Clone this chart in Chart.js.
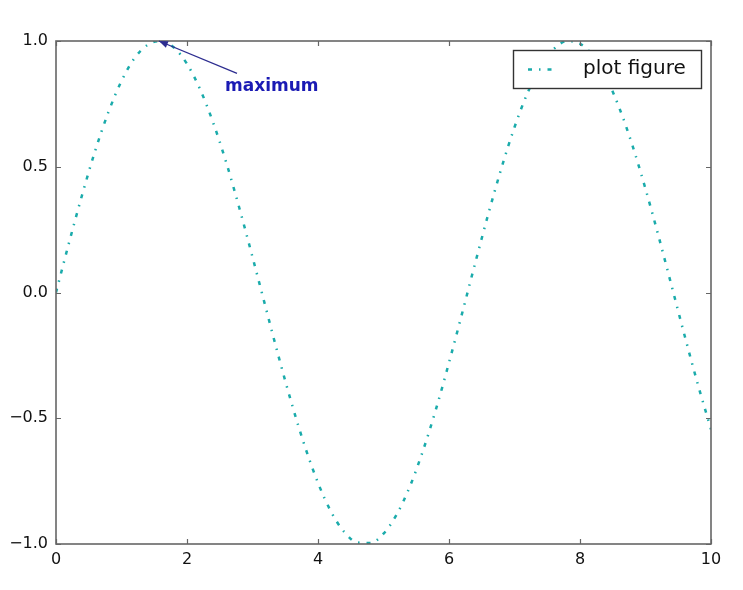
<!DOCTYPE html>
<html><head><meta charset="utf-8">
<script src="https://cdn.jsdelivr.net/npm/chart.js@4/dist/chart.umd.min.js"></script>
<style>html,body{margin:0;padding:0;background:#fff}#wrap{width:743px;height:590px}</style>
</head><body><div id="wrap"><canvas id="c" width="743" height="590"></canvas></div>
<script>
const xValues = [0,0.2,0.4,0.6,0.8,1.0,1.2,1.4,1.6,1.8,2.0,2.2,2.4,2.6,2.8,3.0,3.2,3.4,3.6,3.8,4.0,4.2,4.4,4.6,4.8,5.0,5.2,5.4,5.6,5.8,6.0,6.2,6.4,6.6,6.8,7.0,7.2,7.4,7.6,7.8,8.0,8.2,8.4,8.6,8.8,9.0,9.2,9.4,9.6,9.8,10.0];
const yValues = [0,0.199,0.389,0.565,0.717,0.841,0.932,0.985,1.000,0.974,0.909,0.808,0.675,0.516,0.335,0.141,-0.058,-0.256,-0.443,-0.612,-0.757,-0.872,-0.952,-0.994,-0.996,-0.959,-0.883,-0.773,-0.631,-0.465,-0.279,-0.083,0.117,0.312,0.494,0.657,0.794,0.899,0.968,0.999,0.989,0.941,0.855,0.734,0.585,0.412,0.223,0.025,-0.174,-0.366,-0.544];
const xTicks = [0,2,4,6,8,10];
const yTicks = [-1.0,-0.5,0.0,0.5,1.0];
const seriesLabel = 'plot figure';
const annotText = 'maximum';
const annotPoint = [1.5708, 1.0];
const annotTextPos = [2.58, 0.80];

const FONT = '"DejaVu Sans", sans-serif';
const LINE_COLOR = '#1aabab';
const DASH = [4, 7, 1.5, 7];

const fmt = v => (v < 0 ? '\u2212' : '') + Math.abs(v).toFixed(1);

const framePlugin = {
  id: 'frame',
  afterDatasetsDraw(chart) {
    const {ctx, chartArea: a, scales: {x, y}} = chart;
    ctx.save();
    ctx.strokeStyle = '#666';
    ctx.lineWidth = 1.2;
    const L = 5;
    ctx.beginPath();
    xTicks.forEach(t => {
      const px = Math.round(x.getPixelForValue(t)) + 0.5;
      ctx.moveTo(px, a.bottom); ctx.lineTo(px, a.bottom - L);
      ctx.moveTo(px, a.top); ctx.lineTo(px, a.top + L);
    });
    yTicks.forEach(t => {
      const py = Math.round(y.getPixelForValue(t)) + 0.5;
      ctx.moveTo(a.left, py); ctx.lineTo(a.left + L, py);
      ctx.moveTo(a.right, py); ctx.lineTo(a.right - L, py);
    });
    ctx.stroke();
    ctx.lineWidth = 1.6;
    ctx.strokeRect(a.left, a.top, a.right - a.left, a.bottom - a.top);

    // annotation
    const tx = x.getPixelForValue(annotTextPos[0]);
    const ty = y.getPixelForValue(annotTextPos[1]);
    const px = x.getPixelForValue(annotPoint[0]);
    const py = y.getPixelForValue(annotPoint[1]);
    ctx.font = 'bold 17px ' + FONT;
    ctx.fillStyle = '#1a1ab4';
    ctx.textAlign = 'left';
    ctx.textBaseline = 'alphabetic';
    ctx.fillText(annotText, tx, ty);
    const sx = tx + 12, sy = ty - 18;
    ctx.strokeStyle = '#2d2d90';
    ctx.fillStyle = '#2d2d90';
    ctx.lineWidth = 1.3;
    ctx.beginPath(); ctx.moveTo(sx, sy); ctx.lineTo(px, py); ctx.stroke();
    const ang = Math.atan2(py - sy, px - sx);
    const hl = 9, hw = 3.5;
    ctx.beginPath();
    ctx.moveTo(px, py);
    ctx.lineTo(px - hl * Math.cos(ang) + hw * Math.sin(ang), py - hl * Math.sin(ang) - hw * Math.cos(ang));
    ctx.lineTo(px - hl * Math.cos(ang) - hw * Math.sin(ang), py - hl * Math.sin(ang) + hw * Math.cos(ang));
    ctx.closePath(); ctx.fill();

    // legend
    const lx = 513, ly = 50, lw = 188, lh = 38;
    ctx.fillStyle = '#fff';
    ctx.fillRect(lx, ly, lw, lh);
    ctx.strokeStyle = '#333';
    ctx.lineWidth = 1.4;
    ctx.strokeRect(lx + 0.5, ly + 0.5, lw, lh);
    ctx.strokeStyle = LINE_COLOR;
    ctx.lineWidth = 2.5;
    ctx.setLineDash(DASH);
    ctx.beginPath(); ctx.moveTo(lx + 15, ly + 19.5); ctx.lineTo(lx + 43, ly + 19.5); ctx.stroke();
    ctx.setLineDash([]);
    ctx.fillStyle = '#111';
    ctx.font = '20px ' + FONT;
    ctx.textBaseline = 'middle';
    ctx.fillText(chart.data.datasets[0].label, lx + 70, ly + 19);
    ctx.restore();
  }
};

new Chart(document.getElementById('c'), {
  type: 'line',
  data: {
    labels: xValues,
    datasets: [{
      label: seriesLabel,
      data: xValues.map((v, i) => ({x: v, y: yValues[i]})),
      borderColor: LINE_COLOR,
      borderWidth: 2.5,
      borderDash: DASH,
      pointRadius: 0,
      cubicInterpolationMode: 'monotone',
      fill: false
    }]
  },
  options: {
    responsive: false,
    animation: false,
    layout: {padding: {left: 0, top: 41, right: 32, bottom: 0}},
    plugins: {legend: {display: false}, tooltip: {enabled: false}},
    scales: {
      x: {
        type: 'linear', min: 0, max: 10,
        afterBuildTicks: s => { s.ticks = xTicks.map(v => ({value: v})); },
        afterFit: s => { s.height = 46; },
        grid: {display: false, drawTicks: false},
        border: {display: false},
        ticks: {padding: 6, color: '#111', font: {family: FONT, size: 16}, maxRotation: 0, callback: v => String(v)}
      },
      y: {
        type: 'linear', min: -1, max: 1,
        afterBuildTicks: s => { s.ticks = yTicks.map(v => ({value: v})); },
        afterFit: s => { s.width = 56; },
        grid: {display: false, drawTicks: false},
        border: {display: false},
        ticks: {padding: 8, color: '#111', font: {family: FONT, size: 16}, callback: v => fmt(v)}
      }
    }
  },
  plugins: [framePlugin]
});
</script>
</body></html>
